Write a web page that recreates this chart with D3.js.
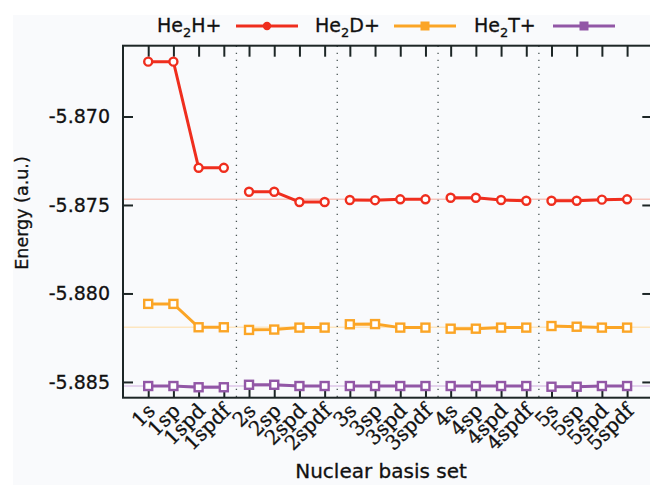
<!DOCTYPE html>
<html>
<head>
<meta charset="utf-8">
<script src="https://cdn.jsdelivr.net/npm/d3@7"></script>
<style>
  body { margin: 0; background: #ffffff; }
  text { font-family: "DejaVu Sans", sans-serif; fill: #111; stroke: #111; stroke-width: 0.3; }
</style>
</head>
<body>
<div class="chart"></div>
<script>
const basisSets = ['1s','1sp','1spd','1spdf','2s','2sp','2spd','2spdf','3s','3sp','3spd','3spdf',
                   '4s','4sp','4spd','4spdf','5s','5sp','5spd','5spdf'];
const he2h = [-5.8669, -5.8669, -5.8729, -5.8729, -5.87425, -5.87425, -5.87483, -5.87483,
              -5.87472, -5.87473, -5.87468, -5.87468, -5.87459, -5.87459, -5.87472, -5.87476,
              -5.87476, -5.87476, -5.87470, -5.87468];
const he2d = [-5.88059, -5.88059, -5.88191, -5.88191, -5.88206, -5.88204, -5.88193, -5.88193,
              -5.88174, -5.88173, -5.88193, -5.88193, -5.88199, -5.88199, -5.88193, -5.88193,
              -5.88184, -5.88188, -5.88193, -5.88193];
const he2t = [-5.88523, -5.88523, -5.88530, -5.88530, -5.88516, -5.88516, -5.88523, -5.88523,
              -5.88523, -5.88523, -5.88523, -5.88523, -5.88523, -5.88523, -5.88523, -5.88523,
              -5.88527, -5.88527, -5.88523, -5.88523];
const refLines = [-5.87468, -5.88191, -5.88523];
const yTicks = [-5.870, -5.875, -5.880, -5.885];
const groupBreaks = [3.5, 7.5, 11.5, 15.5];
const seriesNames = ['H', 'D', 'T'];

const width = 650, height = 485;
const colors = ['#ef2e1e', '#fba526', '#9257a6'];
const refColors = ['#f8c4bb', '#fde6c0', '#dcc6e8'];

const svg = d3.select('.chart').append('svg')
    .attr('width', width)
    .attr('height', height);

svg.append('rect')
    .attr('x', 13).attr('y', 15)
    .attr('width', width).attr('height', height)
    .attr('fill', '#f9fafc');

const xScale = d3.scaleLinear()
    .domain([-1, 20])
    .range([123, 652.3]);
const yScale = d3.scaleLinear()
    .domain([-5.88589, -5.866])
    .range([397.7, 45.7]);

const pLeft = xScale(-1), pRight = xScale(20), pTop = yScale(-5.866), pBottom = yScale(-5.88589);

// faint reference levels
svg.selectAll('.ref')
    .data(refLines)
    .enter()
    .append('line')
    .attr('class', 'ref')
    .attr('x1', pLeft).attr('x2', pRight)
    .attr('y1', d => yScale(d)).attr('y2', d => yScale(d))
    .attr('stroke', (d, i) => refColors[i])
    .attr('stroke-width', 1.5);

// dotted separators between basis groups
svg.selectAll('.sep')
    .data(groupBreaks)
    .enter()
    .append('line')
    .attr('class', 'sep')
    .attr('x1', d => xScale(d)).attr('x2', d => xScale(d))
    .attr('y1', pTop).attr('y2', pBottom)
    .attr('stroke', '#4a5555')
    .attr('stroke-width', 1.3)
    .attr('stroke-dasharray', '1.3,5.7');

// axes with inward ticks (mirrored like gnuplot)
const xIdx = d3.range(basisSets.length);
svg.append('g')
    .attr('transform', `translate(0, ${pBottom})`)
    .call(d3.axisTop(xScale).tickValues(xIdx).tickSize(11).tickFormat(''))
    .call(g => g.select('.domain').remove());
svg.append('g')
    .attr('transform', `translate(0, ${pTop})`)
    .call(d3.axisBottom(xScale).tickValues(xIdx).tickSize(11).tickFormat(''))
    .call(g => g.select('.domain').remove());
svg.append('g')
    .attr('transform', `translate(${pLeft}, 0)`)
    .call(d3.axisRight(yScale).tickValues(yTicks).tickSize(10).tickFormat(''))
    .call(g => g.select('.domain').remove());
svg.append('g')
    .attr('transform', `translate(${pRight}, 0)`)
    .call(d3.axisLeft(yScale).tickValues(yTicks).tickSize(10).tickFormat(''))
    .call(g => g.select('.domain').remove());
svg.selectAll('.tick line')
    .attr('stroke', '#1d2626')
    .attr('stroke-width', 2);

svg.append('rect')
    .attr('x', pLeft).attr('y', pTop)
    .attr('width', pRight - pLeft).attr('height', pBottom - pTop)
    .attr('fill', 'none')
    .attr('stroke', '#1d2626')
    .attr('stroke-width', 2);

// y tick labels
svg.selectAll('.ylab')
    .data(yTicks)
    .enter()
    .append('text')
    .attr('class', 'ylab')
    .text(d => d3.format('.3f')(d).replace('−', '-'))
    .attr('x', 110)
    .attr('y', d => yScale(d))
    .attr('dy', '0.36em')
    .attr('text-anchor', 'end')
    .attr('font-size', 19);

// x tick labels
svg.selectAll('.xlab')
    .data(basisSets)
    .enter()
    .append('text')
    .attr('class', 'xlab')
    .text(d => d)
    .attr('transform', (d, i) => `translate(${xScale(i) + 8}, 412) rotate(-45)`)
    .attr('text-anchor', 'end')
    .style('font-family', '"DejaVu Serif", serif')
    .attr('font-size', 20);

// axis titles
svg.append('text')
    .text('Nuclear basis set')
    .attr('x', 381)
    .attr('y', 478)
    .attr('text-anchor', 'middle')
    .attr('font-size', 20);
svg.append('text')
    .text('Energy (a.u.)')
    .attr('transform', 'translate(28, 213) rotate(-90)')
    .attr('text-anchor', 'middle')
    .attr('font-size', 17.5);

// series, one segment per nuclear basis group
const series = [he2h, he2d, he2t];
const groups = d3.range(5).map(g => d3.range(g * 4, g * 4 + 4));
const line = d3.line()
    .x(d => xScale(d[0]))
    .y(d => yScale(d[1]));

series.forEach((vals, k) => {
    svg.selectAll('.seg' + k)
        .data(groups)
        .enter()
        .append('path')
        .attr('d', g => line(g.map(i => [i, vals[i]])))
        .attr('fill', 'none')
        .attr('stroke', colors[k])
        .attr('stroke-width', 3);
    if (k === 0) {
        svg.selectAll('.pt' + k)
            .data(vals)
            .enter()
            .append('circle')
            .attr('cx', (d, i) => xScale(i))
            .attr('cy', d => yScale(d))
            .attr('r', 4)
            .attr('fill', '#fff')
            .attr('stroke', colors[k])
            .attr('stroke-width', 2.4);
    } else {
        svg.selectAll('.pt' + k)
            .data(vals)
            .enter()
            .append('rect')
            .attr('x', (d, i) => xScale(i) - 4)
            .attr('y', d => yScale(d) - 4)
            .attr('width', 8)
            .attr('height', 8)
            .attr('fill', '#fff')
            .attr('stroke', colors[k])
            .attr('stroke-width', 2.4);
    }
});

// legend
const legendX = [157, 315, 474];
const legend = svg.selectAll('.legend')
    .data(seriesNames)
    .enter()
    .append('g')
    .attr('class', 'legend')
    .attr('transform', (d, i) => `translate(${legendX[i]}, 32)`);
const lt = legend.append('text')
    .attr('font-size', 19);
lt.append('tspan').text('He');
lt.append('tspan').text('2').attr('font-size', 13).attr('dy', 5);
lt.append('tspan').text(d => d + '+').attr('dy', -5);
legend.append('line')
    .attr('x1', 79).attr('x2', 141)
    .attr('y1', -6).attr('y2', -6)
    .attr('stroke', (d, i) => colors[i])
    .attr('stroke-width', 3);
legend.each(function(d, i) {
    const g = d3.select(this);
    if (i === 0) {
        g.append('circle').attr('cx', 110).attr('cy', -6).attr('r', 4.2).attr('fill', colors[i]);
    } else {
        g.append('rect').attr('x', 105.5).attr('y', -10.5).attr('width', 9).attr('height', 9).attr('fill', colors[i]);
    }
});
</script>
</body>
</html>
